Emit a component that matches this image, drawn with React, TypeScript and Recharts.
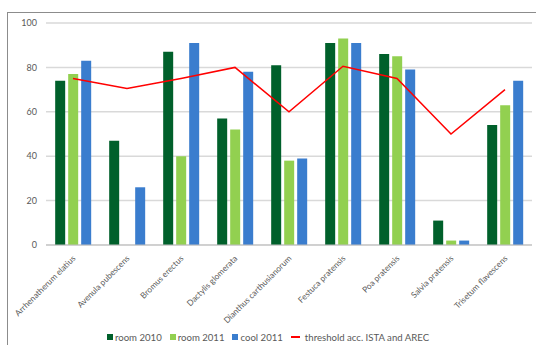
import {
  ComposedChart,
  Bar,
  Line,
  XAxis,
  YAxis,
  CartesianGrid,
  Legend,
} from "recharts";

// germination per species and storage condition (%)
const species = [
  "Arrhenatherum elatius",
  "Avenula pubescens",
  "Bromus erectus",
  "Dactylis glomerata",
  "Dianthus carthusianorum",
  "Festuca pratensis",
  "Poa pratensis",
  "Salvia pratensis",
  "Trisetum flavescens",
];
const room2010 = [74, 47, 87, 57, 81, 91, 86, 11, 54];
const room2011 = [77, 0, 40, 52, 38, 93, 85, 2, 63];
const cool2011 = [83, 26, 91, 78, 39, 91, 79, 2, 74];
const threshold = [75, 70.5, 75, 80, 60, 80.5, 75, 50, 70];
const yTicks = [0, 20, 40, 60, 80, 100];

const data = species.map((name, i) => ({
  name,
  room2010: room2010[i],
  room2011: room2011[i] || null,
  cool2011: cool2011[i],
  threshold: threshold[i],
}));

const FONT = "Lato, 'Liberation Sans', sans-serif";
const TEXT = "#595959";

const legendItems = [
  { label: "room 2010", color: "#00602b", kind: "box" },
  { label: "room 2011", color: "#92d050", kind: "box" },
  { label: "cool 2011", color: "#3a7dce", kind: "box" },
  { label: "threshold acc. ISTA and AREC", color: "#ff0000", kind: "line" },
];

function SpeciesTick(props: any) {
  const { x, y, payload } = props;
  return (
    <text
      x={x + 3}
      y={y + 6}
      textAnchor="end"
      fontSize={8.3}
      fontFamily={FONT}
      fill={TEXT}
      transform={`rotate(-45, ${x + 3}, ${y + 6})`}
    >
      {payload.value}
    </text>
  );
}

function LegendRow() {
  return (
    <div
      style={{
        height: 16,
        display: "flex",
        justifyContent: "center",
        alignItems: "center",
        fontFamily: FONT,
        fontSize: 9.6,
        color: TEXT,
        paddingLeft: 12,
      }}
    >
      {legendItems.map((it) => (
        <span
          key={it.label}
          style={{ display: "flex", alignItems: "center", marginRight: 8 }}
        >
          {it.kind === "box" ? (
            <span
              style={{ width: 6, height: 6, background: it.color, marginRight: 2 }}
            />
          ) : (
            <span
              style={{ width: 9, height: 2, background: it.color, marginRight: 5 }}
            />
          )}
          {it.label}
        </span>
      ))}
    </div>
  );
}

export default function App() {
  return (
    <div
      style={{
        position: "absolute",
        left: 0,
        top: 0,
        width: 536,
        height: 345,
        background: "#fff",
        overflow: "hidden",
      }}
    >
      <div
        style={{
          position: "absolute",
          left: 7,
          top: 12,
          width: 540,
          height: 340,
          borderLeft: "1.5px solid #8c8c8c",
          borderTop: "1.5px solid #8c8c8c",
        }}
      />
      <div style={{ position: "absolute", left: 0, top: 0 }}>
        <ComposedChart
          width={536}
          height={345}
          data={data}
          margin={{ top: 23, right: 4, left: 0, bottom: 0 }}
          barCategoryGap="17%"
          barGap={3}
        >
          <CartesianGrid vertical={false} stroke="#d9d9d9" strokeWidth={1.5} />
          <XAxis
            dataKey="name"
            interval={0}
            height={84}
            tick={<SpeciesTick />}
            tickLine={false}
            axisLine={{ stroke: "#bfbfbf" }}
          />
          <YAxis
            width={46}
            domain={[0, 100]}
            ticks={yTicks}
            tickLine={false}
            axisLine={false}
            tickMargin={3}
            tick={{ fontSize: 9, fontFamily: FONT, fill: TEXT }}
          />
          <Legend verticalAlign="bottom" height={16} content={() => <LegendRow />} />
          <Bar dataKey="room2010" fill="#00602b" isAnimationActive={false} />
          <Bar dataKey="room2011" fill="#92d050" isAnimationActive={false} />
          <Bar dataKey="cool2011" fill="#3a7dce" isAnimationActive={false} />
          <Line
            dataKey="threshold"
            stroke="#ff0000"
            strokeWidth={1.5}
            dot={false}
            isAnimationActive={false}
          />
        </ComposedChart>
      </div>
    </div>
  );
}
